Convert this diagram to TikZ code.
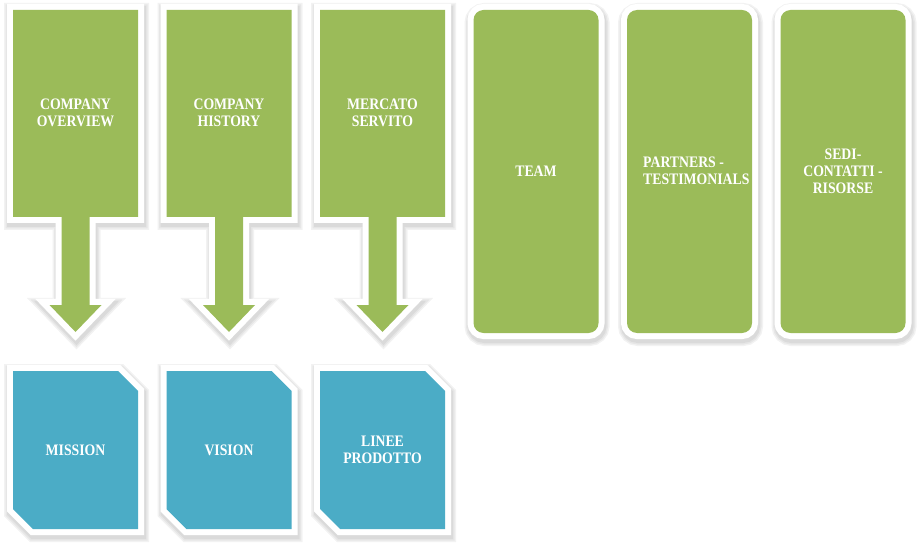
\documentclass[tikz,border=0pt]{standalone}
\usepackage{fontspec}
\setmainfont[FakeStretch=0.86]{Liberation Serif}
\definecolor{ogreen}{HTML}{9BBB59}
\definecolor{oblue}{HTML}{4BACC6}
\newcommand\calloutpath[1]{({#1-62.5},10) -- ({#1+62.5},10) -- ({#1+62.5},217) -- ({#1+14},217) -- ({#1+14},305) -- ({#1+26},305) -- (#1,332) -- ({#1-26},305) -- ({#1-14},305) -- ({#1-14},217) -- ({#1-62.5},217) -- cycle}
\newcommand\roundpath[1]{({#1-62.5},10) rectangle ({#1+62.5},333)}
\newcommand\snippath[1]{({#1-62.5},371) -- ({#1+42.5},371) -- ({#1+62.5},391) -- ({#1+62.5},529) -- ({#1-42.5},529) -- ({#1-62.5},509) -- cycle}
\tikzset{
  softshadow/.style={draw=black, line width=#1, line join=miter, opacity=0.05},
  whiteborder/.style={draw=white, fill=white, line width=12pt, line join=miter},
  lbl/.style={text=white, font=\bfseries\fontsize{16}{17}\selectfont, align=center, inner sep=0pt},
}
\newcommand\shapeblock[3]{% #1 path macro, #2 center, #3 color
  \foreach \w in {20,17,14} {\path[softshadow=\w pt, xshift=1pt, yshift=-3pt] #1{#2};}
  \path[whiteborder] #1{#2};
  \fill[#3] #1{#2};
}
\newcommand\roundblock[1]{%
  \foreach \w in {20,17,14} {\path[softshadow=\w pt, rounded corners=10pt, xshift=1pt, yshift=-3pt] \roundpath{#1};}
  \path[whiteborder, rounded corners=10pt] \roundpath{#1};
  \fill[ogreen, rounded corners=10pt] \roundpath{#1};
}
\begin{document}
\begin{tikzpicture}[x=1pt, y=-1pt]
\useasboundingbox (0,0) rectangle (918,545);
\shapeblock{\calloutpath}{75.5}{ogreen}
\shapeblock{\calloutpath}{229}{ogreen}
\shapeblock{\calloutpath}{382.5}{ogreen}
\roundblock{536}
\roundblock{689.5}
\roundblock{843}
\shapeblock{\snippath}{75.5}{oblue}
\shapeblock{\snippath}{229}{oblue}
\shapeblock{\snippath}{382.5}{oblue}
\node[lbl] (ov) at (75.5,113) {COMPANY\\OVERVIEW};
\node[lbl] (hi) at (229,113) {COMPANY\\HISTORY};
\node[lbl] (me) at (382.5,113) {MERCATO\\SERVITO};
\node[lbl] (te) at (536,171) {TEAM};
\node[lbl, align=left, anchor=west] (pa) at (643,171) {PARTNERS -\\TESTIMONIALS};
\node[lbl] (se) at (843,171) {SEDI-\\CONTATTI -\\RISORSE};
\node[lbl] (mi) at (75.5,450) {MISSION};
\node[lbl] (vi) at (229,450) {VISION};
\node[lbl] (li) at (382.5,450) {LINEE\\PRODOTTO};
\end{tikzpicture}
\end{document}
